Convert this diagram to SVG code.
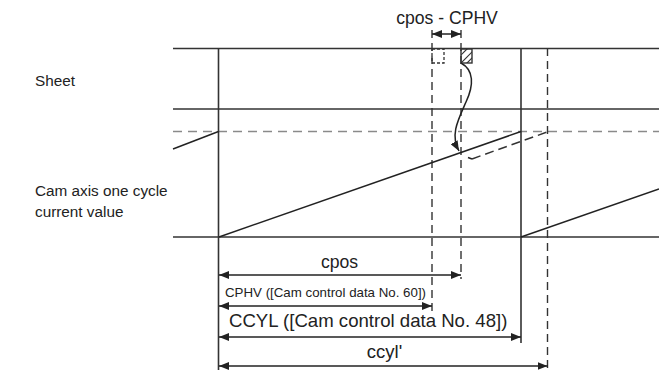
<svg xmlns="http://www.w3.org/2000/svg" width="659" height="372" viewBox="0 0 659 372">
<style>
.ln{stroke:#333;stroke-width:1.6;fill:none}
.th{stroke:#222;stroke-width:1.5;fill:none}
.dv{stroke:#333;stroke-width:1.4;fill:none;stroke-dasharray:8 5}
.dg{stroke:#8a8a8a;stroke-width:1.6;fill:none;stroke-dasharray:9 6}
.dm{stroke:#333;stroke-width:1.3;fill:none;stroke-dasharray:3 2}
.t{font-family:"Liberation Sans",Arial,sans-serif;fill:#222}
</style>
<defs>
<marker id="ah" viewBox="0 0 10 8" refX="10" refY="4" markerWidth="10" markerHeight="8" markerUnits="userSpaceOnUse" orient="auto-start-reverse">
<path d="M0,0 L10,4 L0,8 Z" fill="#222"/>
</marker>
<clipPath id="hc"><rect x="461" y="49" width="11" height="14"/></clipPath>
</defs>
<g id="labels">
<text class="t" x="35" y="86" font-size="15.3">Sheet</text>
<text class="t" x="35" y="196" font-size="15.3">Cam axis one cycle</text>
<text class="t" x="35" y="217" font-size="15.3">current value</text>
</g>
<g id="grid">
<line class="ln" x1="173" y1="48.5" x2="659" y2="48.5"/>
<line class="ln" x1="173" y1="109" x2="659" y2="109"/>
<line class="dg" x1="173" y1="131.5" x2="659" y2="131.5"/>
<line class="ln" x1="173" y1="237" x2="659" y2="237"/>
<line class="ln" x1="218.5" y1="48" x2="218.5" y2="370"/>
<line class="ln" x1="521" y1="48" x2="521" y2="343"/>
<line class="dv" x1="547.5" y1="48" x2="547.5" y2="371"/>
<line class="dv" x1="432" y1="30" x2="432" y2="311"/>
<line class="dv" x1="461" y1="30" x2="461" y2="279"/>
</g>
<g id="sheet-marks">
<rect class="dm" x="432" y="49" width="12" height="14"/>
<g clip-path="url(#hc)" stroke="#333" stroke-width="1.2">
<line x1="458" y1="58" x2="468" y2="48"/>
<line x1="460" y1="64" x2="476" y2="48"/>
<line x1="466" y1="64" x2="480" y2="50"/>
</g>
<rect x="461" y="49" width="11" height="14" fill="none" stroke="#333" stroke-width="1.4"/>
</g>
<g id="ramps">
<line class="th" x1="173" y1="149" x2="218.5" y2="131.5"/>
<line class="th" x1="219" y1="237" x2="521" y2="131.5"/>
<line class="th" x1="521" y1="237" x2="659" y2="189"/>
<polyline points="472,159 468,157.5" class="th" stroke-width="1.3"/>
<line x1="472" y1="159" x2="547" y2="132" stroke="#333" stroke-width="1.4" stroke-dasharray="9 5"/>
</g>
<g id="connectors">
<path class="th" stroke-width="1.2" d="M461,63 C474,70 474,85 466,102 C458,120 450,135 459,151" marker-end="url(#ah)"/>
<line class="th" stroke-width="1.2" x1="432" y1="34" x2="461" y2="34" marker-start="url(#ah)" marker-end="url(#ah)"/>
<line class="th" stroke-width="1.2" x1="219" y1="275" x2="461" y2="275" marker-start="url(#ah)" marker-end="url(#ah)"/>
<line class="th" stroke-width="1.2" x1="219" y1="306" x2="432" y2="306" marker-start="url(#ah)" marker-end="url(#ah)"/>
<line class="th" stroke-width="1.2" x1="219" y1="337" x2="521" y2="337" marker-start="url(#ah)" marker-end="url(#ah)"/>
<line class="th" stroke-width="1.2" x1="219" y1="366" x2="547.5" y2="366" marker-start="url(#ah)" marker-end="url(#ah)"/>
</g>
<g id="dim-labels">
<text class="t" x="447" y="24" font-size="17.6" text-anchor="middle">cpos - CPHV</text>
<text class="t" x="339.5" y="268" font-size="17.6" text-anchor="middle">cpos</text>
<text class="t" x="225" y="297" font-size="13.3">CPHV ([Cam control data No. 60])</text>
<text class="t" x="229" y="327" font-size="18.6">CCYL ([Cam control data No. 48])</text>
<text class="t" x="384.5" y="358" font-size="18.5" text-anchor="middle">ccyl'</text>
</g>
</svg>
